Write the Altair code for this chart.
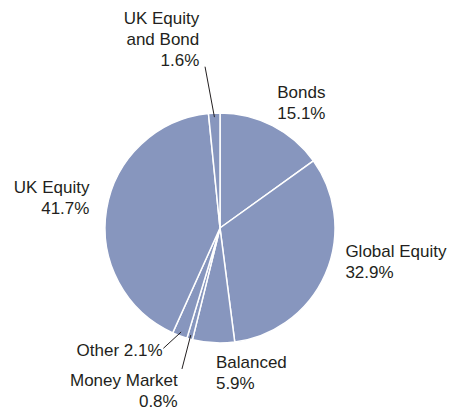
import math
import altair as alt
import pandas as pd

# ---- data ----
categories = ["Bonds", "Global Equity", "Balanced", "Money Market",
              "Other", "UK Equity", "UK Equity and Bond"]
shares = [15.1, 32.9, 5.9, 0.8, 2.1, 41.7, 1.6]
label_texts = ["Bonds\n15.1%", "Global Equity\n32.9%", "Balanced\n5.9%",
               "Money Market\n0.8%", "Other 2.1%", "UK Equity\n41.7%",
               "UK Equity\nand Bond\n1.6%"]

# ---- layout (style) ----
CX, CY, R = 212, 220, 115
LH = 21
FILL = "#8796BE"
TEXT = "#231f20"
# polar placement of each label block centre: (angle deg clockwise from top, radius, align)
label_place = {
    "Bonds": (24.7, 137, "left"),
    "Global Equity": (105.3, 130, "left"),
    "Balanced": (181.6, 146, "left"),
    "Money Market": (194.5, 169, "right"),
    "Other": (205.0, 136, "right"),
    "UK Equity": (282.9, 134, "right"),
    "UK Equity and Bond": (353.7, 189, "right"),
}
# leader lines for the small slices: outer end (angle, radius); inner end at slice mid-angle
leaders = {
    "Money Market": (195.1, 146),
    "Other": (205.2, 133),
    "UK Equity and Bond": (354.7, 162),
}

total = sum(shares)
cum = 0.0
mids = []
for s in shares:
    mids.append((cum + s / 2) / total * 360)
    cum += s

df = pd.DataFrame({"category": categories, "share": shares,
                   "order": list(range(len(categories)))})


def polar(a, r):
    t = math.radians(a)
    return CX + r * math.sin(t), CY - r * math.cos(t)


lab_rows = []
for cat, txt in zip(categories, label_texts):
    a, r, al = label_place[cat]
    x, y = polar(a, r)
    n = txt.count("\n") + 1
    y -= (n - 1) * LH / 2  # first line centre
    lab_rows.append({"category": cat, "text": txt, "x": x, "y": y, "align": al})
labels = pd.DataFrame(lab_rows)

lead_rows = []
for cat, mid in zip(categories, mids):
    if cat in leaders:
        x1, y1 = polar(mid, 111)
        a, r = leaders[cat]
        x2, y2 = polar(a, r)
        lead_rows.append({"x": x1, "y": y1, "x2": x2, "y2": y2})
lead = pd.DataFrame(lead_rows)

pie = alt.Chart(df).mark_arc(outerRadius=R, stroke="white", strokeWidth=1.5,
                             color=FILL).encode(
    theta=alt.Theta("share:Q", stack=True),
    order=alt.Order("order:Q", sort="ascending"),
    x=alt.value(CX), y=alt.value(CY),
)

lines = alt.Chart(lead).mark_rule(color=TEXT, strokeWidth=1).encode(
    x=alt.X("x:Q", scale=None), y=alt.Y("y:Q", scale=None),
    x2="x2:Q", y2="y2:Q",
)


def text_layer(al):
    return alt.Chart(labels).transform_filter(
        alt.datum.align == al
    ).mark_text(align=al, baseline="middle", lineBreak="\n", lineHeight=LH,
                font="Liberation Sans", fontSize=17, color=TEXT).encode(
        x=alt.X("x:Q", scale=None), y=alt.Y("y:Q", scale=None),
        text="text:N",
    )


chart = alt.layer(pie, lines, text_layer("left"), text_layer("right")).properties(
    width=439, height=402, autosize="none", padding=0
).configure_view(stroke=None)

chart.save("out.html", embed_options={"renderer": "svg", "actions": False})
